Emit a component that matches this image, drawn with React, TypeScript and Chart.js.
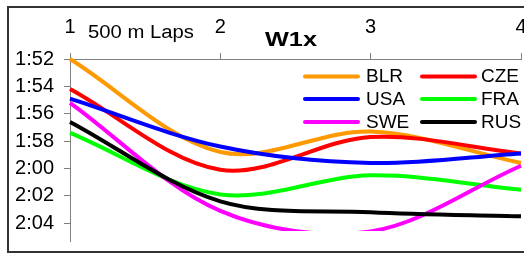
import React, { useEffect, useRef } from "react";
import { Chart, registerables } from "chart.js";
Chart.register(...registerables);

// Laps (x) and lap-time values in seconds (y)
const laps = [1, 2, 3, 4];
const lapTicks = [1, 2, 3, 4];
const timeTicks = [112, 114, 116, 118, 120, 122, 124];
const teams = ["BLR", "CZE", "USA", "FRA", "SWE", "RUS"];
const colors = ["#FF9900", "#FF0000", "#0000FF", "#00FF00", "#FF00FF", "#000000"];
const BLR = [112.0, 118.8, 117.3, 119.6];
const CZE = [114.2, 120.1, 117.7, 118.9];
const USA = [114.9, 118.4, 119.6, 118.9];
const FRA = [117.4, 121.9, 120.5, 121.55];
const SWE = [115.2, 123.1, 124.6, 119.8];
const RUS = [116.6, 122.4, 123.2, 123.5];
const xLabel = "500 m Laps";
const title = "W1x";

const FONT = "'Liberation Sans', Arial, sans-serif";

function fmt(v: number) {
  const m = Math.floor(v / 60);
  const s = Math.round(v - m * 60);
  return m + ":" + String(s).padStart(2, "0");
}

export default function App() {
  const ref = useRef<HTMLCanvasElement>(null);
  useEffect(() => {
    const series = [BLR, CZE, USA, FRA, SWE, RUS];
    const datasets = teams.map((t, i) => ({
      label: t,
      data: laps.map((x, j) => ({ x, y: series[i][j] })),
      borderColor: colors[i],
      backgroundColor: colors[i],
      borderWidth: 4,
      pointRadius: 0,
      tension: 0.33,
      fill: false,
      clip: { left: 10, right: 10, top: 10, bottom: -10 },
      order: teams.length - i,
    }));

    const overlay = {
      id: "overlay",
      afterDraw(chart: any) {
        const ctx = chart.ctx as CanvasRenderingContext2D;
        ctx.save();
        // legend
        const lineX = [305, 422];
        const textX = [366, 481];
        const rowY = [76.5, 99, 122];
        ctx.font = "19px " + FONT;
        ctx.textBaseline = "alphabetic";
        ctx.textAlign = "left";
        teams.forEach((t, i) => {
          const col = i % 2;
          const row = Math.floor(i / 2);
          const y = rowY[row];
          ctx.strokeStyle = colors[i];
          ctx.lineWidth = 4;
          ctx.lineCap = "round";
          ctx.beginPath();
          ctx.moveTo(lineX[col], y);
          ctx.lineTo(lineX[col] + 53, y);
          ctx.stroke();
          ctx.fillStyle = "#000";
          ctx.fillText(t, textX[col], y + 5.5);
        });
        // axis label
        ctx.fillStyle = "#000";
        ctx.font = "18px " + FONT;
        let w = ctx.measureText(xLabel).width;
        ctx.save();
        ctx.translate(88, 37.5);
        ctx.scale(106 / w, 1);
        ctx.fillText(xLabel, 0, 0);
        ctx.restore();
        // title
        ctx.font = "bold 20px " + FONT;
        w = ctx.measureText(title).width;
        ctx.save();
        ctx.translate(265, 45.5);
        ctx.scale(52 / w, 1);
        ctx.fillText(title, 0, 0);
        ctx.restore();
        ctx.restore();
      },
    };

    const chart = new Chart(ref.current!, {
      type: "line",
      data: { datasets: datasets as any },
      options: {
        animation: false,
        responsive: false,
        devicePixelRatio: 1,
        layout: { padding: { left: 0, top: 0, right: 3, bottom: 12 }, autoPadding: false },
        plugins: { legend: { display: false }, tooltip: { enabled: false }, title: { display: false } },
        scales: {
          x: {
            type: "linear",
            position: "top",
            min: 1,
            max: 4,
            afterBuildTicks: (s: any) => { s.ticks = lapTicks.map((v) => ({ value: v })); },
            afterFit: (s: any) => { s.height = 59; s.paddingLeft = 0; s.paddingRight = 0; },
            ticks: { color: "#000", font: { family: FONT, size: 20 }, padding: 14, maxRotation: 0, autoSkip: false, callback: (v: any) => String(v) },
            grid: { display: true, drawOnChartArea: false, drawTicks: true, tickLength: 6, color: "#808080" },
            border: { display: true, color: "#808080", width: 1 },
          },
          y: {
            type: "linear",
            reverse: true,
            min: 112,
            max: 125.3,
            afterBuildTicks: (s: any) => { s.ticks = timeTicks.map((v) => ({ value: v })); },
            afterFit: (s: any) => { s.width = 70; s.paddingTop = 0; s.paddingBottom = 0; },
            ticks: { color: "#000", font: { family: FONT, size: 20 }, padding: 10, autoSkip: false, callback: (v: any) => fmt(Number(v)) },
            grid: { display: true, drawOnChartArea: false, drawTicks: true, tickLength: 6, color: "#808080" },
            border: { display: true, color: "#808080", width: 1 },
          },
        },
      },
      plugins: [overlay],
    });
    return () => chart.destroy();
  }, []);

  return (
    <div style={{ position: "fixed", left: 0, top: 0, width: 524, height: 253, overflow: "hidden", background: "#fff" }}>
      <div style={{ position: "absolute", left: 7, top: 6, width: 540, height: 243, border: "2px solid #333" }} />
      <canvas ref={ref} width={524} height={253} style={{ position: "absolute", left: 0, top: 0, width: 524, height: 253 }} />
    </div>
  );
}
